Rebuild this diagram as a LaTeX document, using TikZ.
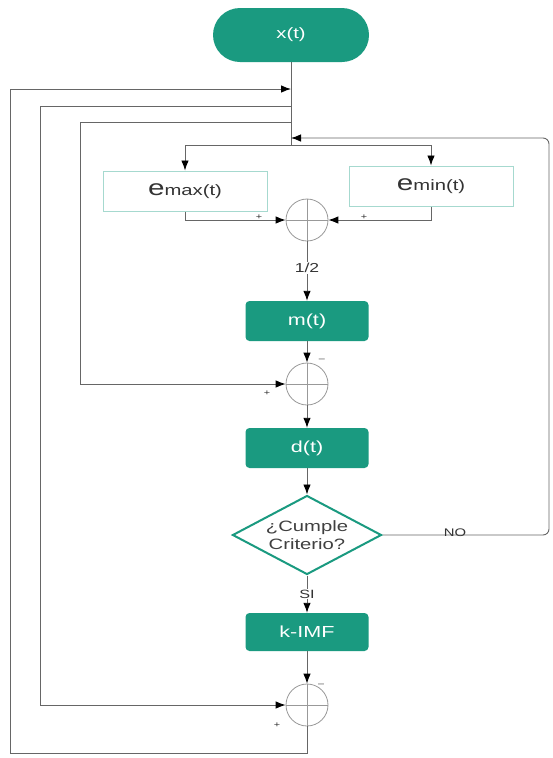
\documentclass[tikz,border=0pt]{standalone}
\usepackage{fontspec}
\setmainfont[FakeStretch=1.35]{Liberation Sans}
\usetikzlibrary{arrows.meta,shapes.geometric}
\definecolor{teal1}{HTML}{1A9A80}
\definecolor{tealL}{HTML}{A6D9CF}
\definecolor{lineg}{HTML}{666666}
\tikzset{
  conn/.style={draw=lineg, line width=0.9pt},
  arr/.style={conn, -{Latex[length=10pt,width=7.5pt,color=black]}},
  filled/.style={rectangle, rounded corners=4pt, fill=teal1, text=white, minimum width=123pt, minimum height=40pt, font=\fontsize{16}{18}\selectfont},
  ebox/.style={rectangle, draw=tealL, line width=1pt, fill=white, minimum width=164pt, minimum height=40pt, text=black!80},
  sumc/.style={circle, draw=black!40, line width=0.8pt, minimum size=42pt, inner sep=0pt},
  sgn/.style={font=\fontsize{8}{8}\selectfont, text=black!80, inner sep=1pt},
  lbl/.style={font=\fontsize{13}{15}\selectfont, text=black!80, inner sep=1pt}
}
\begin{document}
\begin{tikzpicture}[x=1pt,y=-1pt]
\useasboundingbox (0,0) rectangle (552,758);
\fill[white] (0,0) rectangle (552,758);

% nodes
\node[filled, rounded corners=27pt, minimum width=156pt, minimum height=54pt, font=\fontsize{15}{17}\selectfont] (xt) at (291,35) {x(t)};
\node[ebox] (emax) at (185,191) {{\fontsize{22}{22}\selectfont e}{\fontsize{15}{17}\selectfont max(t)}};
\node[ebox] (emin) at (431,186) {{\fontsize{22}{22}\selectfont e}{\fontsize{15}{17}\selectfont min(t)}};
\node[sumc] (s1) at (307,220) {};
\node[filled] (m) at (307,321) {m(t)};
\node[sumc] (s2) at (307,384) {};
\node[filled] (d) at (307,448) {d(t)};
\node[diamond, draw=teal1, line width=2pt, fill=white, minimum width=149pt, minimum height=79pt, inner sep=0pt] (dia) at (307,535) {};
\node[align=center, text=black!75, font=\fontsize{15}{18}\selectfont, inner sep=0pt] (diatxt) at (dia.center) {¿Cumple\\Criterio?};
\node[filled, minimum height=38pt] (k) at (307,632) {k-IMF};
\node[sumc] (s3) at (307,705) {};

% crosshairs
\foreach \s in {s1,s2,s3}{
  \draw[black!40, line width=0.8pt] (\s.north) -- (\s.south) (\s.west) -- (\s.east);
}

% coordinates
\coordinate (j0) at (291,145);
\coordinate (t1) at (291,89);
\coordinate (t2) at (291,106);
\coordinate (t3) at (291,122);
\coordinate (t4) at (291,138);
\coordinate (L1b) at (10,753);
\coordinate (L1t) at (10,89);
\coordinate (L2t) at (40,106);
\coordinate (L3t) at (80,122);
\coordinate (R1) at (549,535);
\coordinate (R2) at (549,138);

% main line
\draw[conn] (xt.south) -- (j0);
\draw[arr] (j0) -| (emax.north);
\draw[arr] (j0) -| (emin.north);

\draw[arr] (emax.south) |- (s1.west);
\draw[arr] (emin.south) |- (s1.east);
\node[sgn] (p1) at (259,217) {+};
\node[sgn] (p2) at (364,217) {+};

\draw[arr] (s1.south) -- node[lbl, fill=white, pos=0.45] (half) {1/2} (m.north);
\draw[arr] (m.south) -- (s2.north);
\node[sgn] (mn1) at (322,360) {--};
\draw[arr] (s2.south) -- (d.north);
\draw[arr] (d.south) -- (dia.north);
\draw[arr] (dia.south) -- node[lbl, fill=white, pos=0.5, font=\fontsize{12}{14}\selectfont] (si) {SI} (k.north);
\draw[arr] (k.south) -- (s3.north);
\node[sgn] (mn3) at (321,685) {--};

% feedback loops
\draw[arr] (s3.south) |- (L1b) -- (L1t) -- (t1);
\draw[arr] (t2) -- (L2t) |- (s3.west);
\node[sgn] (p3) at (277,725) {+};
\draw[arr] (t3) -- (L3t) |- (s2.west);
\node[sgn] (p4) at (267,393) {+};

\draw[arr, rounded corners=6pt] (dia.east) -- (R1) -- (R2) -- (t4);
\node[lbl, font=\fontsize{11}{13}\selectfont] (no) at (455,533) {NO};
\end{tikzpicture}
\end{document}
